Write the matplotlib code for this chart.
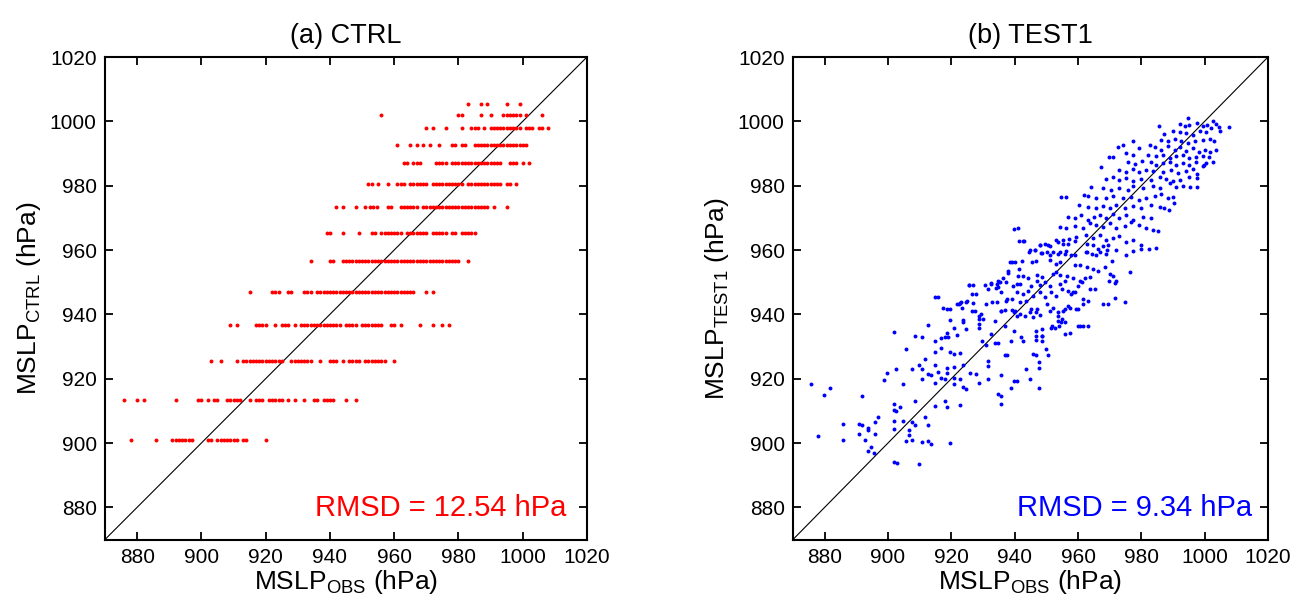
#!/usr/bin/env python3
"""
MSLP scatter: model vs observations, CTRL and TEST1 panels.
"""
import matplotlib
matplotlib.use("Agg")
import matplotlib.pyplot as plt

plt.rcParams["font.family"] = ["Liberation Sans", "DejaVu Sans"]
plt.rcParams["mathtext.default"] = "regular"

# ---- panel (a): CTRL, model pressure comes in discrete levels ----
ctrl_levels = [1005.5, 1002.1, 997.9, 992.7, 987.1, 980.6, 973.4,
               965.4, 956.6, 946.9, 936.7, 925.5, 913.5, 901.0]
ctrl_obs = [
    [983, 987, 989, 995, 999],
    [956, 980, 981, 987, 990, 994, 995, 996, 997, 998, 999, 1001, 1006],
    [970, 972, 976, 981, 984, 985, 986, 988, 990, 991, 992, 993, 994, 995,
     996, 997, 998, 999, 1001, 1002, 1003, 1005, 1006, 1008],
    [961, 965, 967, 969, 971, 974, 978, 979, 981, 982, 985, 986, 987, 988,
     989, 990, 991, 992, 993, 994, 995, 996, 997, 998, 999, 1000, 1001],
    [963, 964, 966, 967, 968, 973, 974, 975, 976, 978, 979, 980, 981, 982,
     983, 984, 985, 986, 987, 988, 989, 990, 991, 992, 993, 996, 997, 998,
     1000, 1002],
    [952, 953, 955, 958, 961, 962, 963, 965, 966, 967, 968, 969, 970, 972,
     973, 974, 975, 976, 977, 978, 979, 980, 981, 983, 984, 985, 986, 987,
     988, 989, 990, 991, 992, 993, 995, 996, 998],
    [942, 944, 948, 951, 952.5, 953.5, 954.5, 958, 959, 962, 963, 964, 965,
     966, 967, 969, 970, 971, 972, 973, 974, 975, 976, 977, 978, 979, 980,
     981, 982, 983, 984, 985, 986, 987, 988, 989, 991, 995],
    [939, 940, 944, 949, 953, 954, 956, 957, 958, 959, 960, 961, 962, 964,
     965, 966, 967, 968, 969, 970, 972, 973, 974, 975, 976, 978, 979, 981,
     982, 983, 984, 985],
    [934, 940, 941, 944, 945, 946, 947, 948, 949, 950, 951, 952, 953, 954,
     955, 956, 957, 958, 959, 960, 961, 962, 963, 964, 965, 966, 967, 968,
     969, 970, 971, 972, 973, 974, 975, 976, 977, 978, 979, 980, 983],
    [915, 922, 923, 924, 927, 928, 932, 933, 934, 936, 937, 938, 939, 940,
     941, 942, 943, 944, 945, 946, 947, 948, 949, 950, 951, 952, 953, 954,
     955, 956, 957, 958, 959, 960, 961, 962, 963, 964, 965, 966, 970, 972],
    [909, 911, 917, 918, 919, 920, 923, 925, 926, 927, 929, 931, 932, 933,
     934, 935, 936, 937, 938, 939, 940, 941, 942, 943, 945, 946, 947, 948,
     950, 951, 952, 953, 954, 955, 956, 959, 960, 962, 968, 972, 975, 977],
    [903, 906, 911, 913, 914, 915, 916, 917, 918, 919, 920, 921, 922, 923,
     924, 925, 928, 929, 930, 931, 932, 933, 934, 937, 940, 941, 942, 944,
     946, 947, 948, 949, 951, 952, 953, 954, 955, 956, 957, 960],
    [876, 880, 882, 892, 899, 900, 902, 904, 905, 908, 909, 910, 911, 912,
     915, 917, 918, 919, 921, 922, 923, 924, 925, 927, 929, 932, 935, 936,
     938, 939, 940, 941, 945, 948],
    [878, 886, 891, 892, 893, 894, 895, 896, 897, 902, 903, 905, 906, 907,
     908, 909, 910, 911, 913, 914, 920],
]

# ---- panel (b): TEST1, (obs, model) pairs ----
test1_obs = [
    875.6, 877.9, 879.7, 881.8, 885.7, 885.7, 891.8, 890.7, 891.8, 890.7,
    892.6, 893.7, 893.8, 893.7, 894.7, 895.6, 895.8, 895.8, 896.7, 898.7,
    899.8, 901.8, 901.8, 901.8, 902.6, 901.8, 901.8, 901.8, 902.8, 902.6,
    903.9, 904.7, 904.7, 905.6, 905.8, 906.6, 906.6, 907.7, 907.7, 907.7,
    908.6, 908.6, 908.6, 909.8, 909.8, 910.6, 910.6, 910.6, 910.6, 911.8,
    911.8, 912.6, 912.6, 912.6, 913.7, 912.6, 913.7, 914.7, 914.7, 914.7,
    914.7, 914.7, 914.7, 915.8, 916.8, 917.9, 918.9, 916.8, 916.8, 917.9,
    917.9, 918.7, 918.7, 918.7, 918.7, 918.7, 919.7, 919.7, 919.7, 920.7,
    920.7, 920.7, 920.7, 920.7, 921.8, 922.8, 921.8, 922.6, 922.6, 922.6,
    923.7, 923.7, 923.7, 923.7, 924.7, 924.7, 924.7, 925.6, 925.8, 926.6,
    926.6, 927.7, 928.7, 928.7, 928.7, 928.7, 928.7, 929.8, 930.8, 930.8,
    931.7, 931.7, 931.7, 931.7, 932.6, 932.6, 933.7, 934.7, 933.7, 934.7,
    934.7, 935.6, 935.6, 935.6, 935.6, 936.8, 937.7, 936.8, 937.7, 938.7,
    938.7, 939.8, 940.8, 939.8, 939.8, 940.8, 940.8, 941.9, 942.6, 943.7,
    944.7, 945.8, 946.6, 946.6, 946.6, 946.6, 946.6, 947.7, 947.7, 947.7,
    948.7, 949.8, 950.6, 951.7, 952.6, 953.7, 954.7, 955.8, 953.7, 955.8,
    956.8, 957.9, 958.9, 960.0, 961.6, 960.0, 961.6, 963.7, 967.9, 969.8,
    971.8, 971.8, 974.7,
    # 940-965 hPa band
    942.9, 947.9, 949.5, 951.1, 953.7, 955.3, 956.9, 959.0, 962.7, 964.8,
    966.4, 967.9, 969.5, 944.8, 948.5, 950.1, 952.2, 954.3, 955.8, 957.9,
    962.7, 964.3, 966.9, 969.0, 939.0, 940.1, 945.6, 946.7, 951.3, 953.2,
    954.3, 959.0, 960.6, 962.7, 964.8, 966.4, 968.5, 970.6, 937.9, 941.1,
    942.7, 944.3, 946.9, 948.5, 952.2, 953.2, 954.3, 956.4, 958.5, 960.6,
    962.2, 963.7, 970.0, 971.1, 972.1, 934.3, 935.3, 937.4, 939.5, 941.6,
    945.3, 946.9, 947.9, 949.5, 951.1, 954.3, 955.8, 960.1, 961.4, 926.9,
    934.0, 935.8, 940.6, 942.7, 944.3, 945.8, 947.9, 949.5, 951.6, 953.2,
    954.8, 956.9, 958.5, 927.9, 915.8, 923.2, 924.8, 926.9, 932.7, 934.3,
    937.2, 939.0, 941.6, 943.7, 945.3, 946.9, 950.1, 951.1, 952.2, 955.3,
    957.4, 959.5, 961.6, 963.2, 965.3, 969.5, 917.4, 919.5, 922.5, 923.5,
    927.4, 929.5, 930.1, 935.8, 936.9, 939.0, 940.1, 941.6, 943.2, 944.8,
    945.8, 947.9, 953.7, 954.8, 955.8, 960.6, 963.2, 951.6, 954.0, 957.4,
    948.5, 948.5, 948.5,
    946.3, 944.5, 942.4, 938.4, 937.9, 941.4, 936.3, 932.6, 934.7, 930.5,
    # upper part
    994.7, 985.5, 992.1, 993.7, 995.2, 997.5, 999.4, 1000.7, 1002.1, 1003.7,
    987.3, 990.0, 992.1, 994.2, 996.3, 998.4, 1000.5, 986.3, 988.4, 990.5,
    992.6, 994.7, 996.8, 999.4, 1003.1, 974.2, 977.3, 979.4, 982.6, 984.2,
    986.3, 988.4, 990.5, 992.1, 994.2, 996.3, 998.2, 1000.0, 1003.7, 982.1,
    984.7, 986.8, 988.9, 991.0, 993.1, 995.2, 997.3, 999.4, 1001.5, 971.2,
    975.2, 977.3, 975.8, 977.9, 980.3, 983.1, 984.7, 986.8, 988.9, 991.0,
    993.1, 995.2, 997.3, 999.7, 1002.6, 967.3, 973.1, 975.2, 977.3, 979.4,
    981.5, 983.7, 986.8, 989.4, 991.5, 994.2, 996.3, 999.4, 968.9, 971.0,
    973.1, 975.2, 977.3, 980.0, 983.1, 985.8, 987.9, 990.0, 992.1, 995.2,
    997.6, 964.2, 967.9, 970.5, 973.1, 975.8, 977.3, 980.5, 983.7, 985.8,
    988.9, 991.0, 993.3, 997.6, 956.1, 963.1, 965.8, 968.9, 971.0, 974.2,
    976.8, 979.4, 981.5, 984.2, 986.3, 988.4, 990.0, 960.3, 963.1, 965.8,
    967.9, 970.0, 972.1, 974.7, 977.3, 980.0, 983.1, 985.8, 987.0, 956.8,
    958.9, 961.0, 963.1, 965.2, 966.8, 968.9, 971.0, 973.1, 975.2, 977.3,
    980.5, 983.1, 954.2, 956.3, 958.9, 961.5, 963.7, 965.8, 967.9, 970.0,
    972.1, 974.7, 976.8, 979.4, 981.5, 985.2, 941.0, 942.6, 947.9, 950.5,
    953.1, 955.2, 957.3, 959.4, 962.6, 964.7, 966.8, 968.9, 971.0, 973.1,
    975.2, 977.3, 980.0, 984.5, 946.3, 948.4, 951.0, 953.7, 956.3, 958.9,
    962.6, 965.8, 968.9, 972.1, 975.2, 977.3, 980.0,
    1007.7, 1004.5, 1004.7, 1002.6, 1001.6, 1001.6, 1000.5, 997.6, 995.5,
    990.2, 988.7, 983.7, 982.4, 976.5, 972.6, 969.8, 961.8, 954.7, 939.7,
    941.4, 925.5,
]
test1_mod = [
    918.4, 902.2, 914.8, 917.1, 906.0, 900.9, 914.5, 905.9, 905.7, 902.9,
    900.9, 904.6, 903.9, 897.4, 898.9, 896.8, 906.4, 902.8, 908.0, 919.7,
    921.8, 934.6, 912.2, 910.4, 909.9, 906.7, 904.3, 894.2, 893.9, 923.1,
    911.2, 918.2, 906.7, 929.1, 900.7, 904.1, 902.6, 923.1, 906.4, 901.0,
    933.3, 913.0, 905.7, 924.4, 893.4, 933.1, 922.9, 920.0, 900.2, 926.0,
    908.1, 936.7, 905.5, 921.5, 921.0, 900.5, 899.8, 945.3, 931.7, 928.3,
    924.4, 918.7, 911.4, 922.0, 932.5, 932.8, 933.1, 929.6, 920.3, 920.0,
    913.0, 941.8, 934.3, 923.4, 921.8, 911.2, 938.3, 928.3, 900.0, 935.6,
    927.6, 923.7, 920.3, 918.2, 943.2, 943.5, 933.5, 927.9, 919.8, 911.8,
    938.3, 937.5, 924.1, 917.5, 916.8, 943.9, 935.4, 949.1, 921.8, 946.3,
    941.1, 921.3, 918.7, 936.9, 935.9, 939.5, 938.5, 931.7, 943.2, 930.4,
    947.9, 925.5, 923.9, 919.8, 933.8, 949.7, 931.2, 931.2, 938.0, 950.5,
    915.1, 914.5, 912.2, 921.0, 941.1, 927.3, 927.3, 936.4, 944.7, 917.1,
    931.7, 919.2, 919.2, 934.9, 940.6, 939.5, 949.4, 933.1, 931.7, 922.9,
    919.8, 927.6, 927.3, 934.9, 933.3, 932.0, 940.6, 925.2, 923.4, 917.1,
    933.3, 929.1, 927.3, 936.4, 935.6, 938.0, 937.5, 933.8, 940.6, 941.8,
    942.7, 946.3, 946.8, 936.4, 936.4, 941.6, 944.7, 947.9, 943.2, 950.5,
    949.7, 945.0, 943.9,
    # 940-965 hPa band
    962.7, 961.6, 961.9, 961.2, 962.5, 963.0, 961.9, 962.7, 961.9, 961.4,
    960.4, 961.2, 961.6, 959.9, 959.1, 959.3, 959.5, 959.3, 958.8, 958.5,
    959.3, 958.8, 959.5, 959.9, 956.2, 956.2, 956.4, 956.7, 957.0, 955.7,
    956.4, 955.2, 955.4, 954.6, 954.1, 953.6, 954.6, 956.7, 952.9, 951.8,
    952.0, 951.2, 952.3, 951.5, 952.6, 953.1, 952.3, 952.0, 951.2, 950.5,
    951.2, 951.5, 952.6, 952.0, 950.5, 949.4, 950.0, 950.2, 948.9, 949.4,
    948.9, 950.5, 949.1, 950.0, 948.9, 949.4, 950.5, 948.9, 950.0, 949.1,
    948.1, 947.0, 946.8, 946.3, 947.4, 945.6, 946.8, 945.3, 946.8, 945.8,
    947.9, 947.4, 946.8, 946.3, 945.3, 943.9, 944.2, 943.5, 943.9, 943.7,
    944.2, 944.8, 943.9, 944.2, 941.8, 941.6, 943.2, 941.1, 942.1, 941.1,
    942.1, 941.6, 943.2, 944.2, 947.9, 943.2, 942.1, 941.8, 943.2, 942.1,
    941.1, 940.1, 938.5, 941.1, 941.4, 941.4, 941.1, 940.1, 939.5, 940.6,
    939.3, 939.8, 939.5, 938.5, 937.5, 936.4, 936.4, 935.9, 936.4, 934.1,
    935.4, 933.3, 931.7,
    959.9, 959.3, 956.7, 956.4, 953.4, 954.1, 951.2, 949.4, 948.4, 949.1,
    # upper part
    1000.9, 998.5, 999.2, 998.5, 999.0, 999.5, 998.5, 999.0, 997.9, 999.2,
    996.1, 996.9, 996.7, 996.4, 995.9, 997.1, 996.7, 994.3, 993.8, 994.6,
    994.0, 993.3, 993.8, 994.3, 993.8, 992.5, 993.8, 991.7, 992.5, 991.9,
    991.2, 992.2, 991.2, 991.9, 990.9, 991.7, 990.5, 991.2, 991.2, 989.6,
    989.1, 989.6, 988.6, 989.1, 989.6, 988.6, 988.8, 989.1, 988.8, 988.9,
    990.1, 989.6, 987.5, 986.7, 987.7, 987.5, 986.5, 987.0, 987.5, 986.5,
    987.0, 986.3, 987.5, 986.5, 987.3, 985.7, 985.0, 984.2, 985.2, 984.2,
    985.0, 984.6, 984.4, 984.9, 983.9, 984.6, 985.2, 986.0, 982.1, 982.8,
    981.8, 982.3, 981.5, 982.1, 981.8, 982.8, 982.1, 981.3, 981.8, 982.8,
    982.3, 979.7, 979.2, 978.7, 979.4, 978.7, 980.0, 979.2, 980.0, 979.4,
    980.8, 979.7, 980.0, 979.5, 976.6, 976.9, 976.1, 976.3, 976.9, 976.1,
    976.6, 975.6, 976.3, 976.9, 977.3, 976.1, 976.6, 974.0, 973.5, 973.0,
    973.8, 973.2, 974.0, 973.2, 973.8, 973.0, 974.0, 973.5, 973.0, 970.3,
    969.8, 970.9, 969.3, 970.3, 970.9, 970.0, 971.1, 969.8, 970.9, 969.3,
    970.3, 969.8, 967.2, 966.7, 967.5, 966.9, 968.3, 967.7, 967.2, 968.3,
    966.7, 967.5, 968.8, 967.7, 966.9, 965.9, 966.7, 962.7, 961.7, 961.5,
    963.1, 962.0, 963.4, 964.1, 964.8, 963.6, 964.6, 963.1, 963.8, 964.4,
    962.5, 963.1, 961.7, 960.5, 960.0, 959.2, 958.4, 958.9, 959.6, 958.4,
    959.4, 958.4, 958.9, 959.9, 958.4, 959.6, 960.4,
    998.1, 998.1, 997.0, 1000.0, 994.5, 990.6, 987.0, 983.5, 979.6,
    974.7, 972.4, 966.1, 960.4, 953.1, 992.1, 989.0, 977.0, 976.5, 966.6,
    962.7, 949.1,
]

ticks = [880, 900, 920, 940, 960, 980, 1000, 1020]


def style_axes(ax, title, ylabel, rmsd_text, color, rmsd_x):
    ax.plot([870, 1020], [870, 1020], color="black", lw=0.8, zorder=1)
    ax.set_xlim(870, 1020)
    ax.set_ylim(870, 1020)
    ax.set_xticks(ticks)
    ax.set_yticks(ticks)
    ax.tick_params(direction="in", length=6, width=1.3, top=True, right=True,
                   labelsize=15, pad=6)
    for sp in ax.spines.values():
        sp.set_linewidth(1.5)
    ax.set_title(title, fontsize=19.5, pad=10)
    ax.set_xlabel("MSLP$_{OBS}$ (hPa)", fontsize=19, labelpad=1)
    ax.set_ylabel(ylabel, fontsize=19, labelpad=5)
    ax.text(rmsd_x, 0.066, rmsd_text, transform=ax.transAxes, ha="right",
            va="center", color=color, fontsize=21)


fig = plt.figure(figsize=(13.03, 6.06), dpi=100)
ax1 = fig.add_axes([105 / 1303, 66.5 / 606, 482 / 1303, 482.5 / 606])
ax2 = fig.add_axes([793 / 1303, 66.5 / 606, 475 / 1303, 482.5 / 606])

# panel (a)
xa, ya = [], []
for lev, xs in zip(ctrl_levels, ctrl_obs):
    xa.extend(xs)
    ya.extend([lev] * len(xs))
ax1.scatter(xa, ya, s=8, color="#ff0000", linewidths=0, zorder=2)
style_axes(ax1, "(a) CTRL", "MSLP$_{CTRL}$ (hPa)", "RMSD = 12.54 hPa",
           "#ff0000", 0.958)

# panel (b)
ax2.scatter(test1_obs, test1_mod, s=8, color="#0000ff", linewidths=0, zorder=2)
style_axes(ax2, "(b) TEST1", "MSLP$_{TEST1}$ (hPa)", "RMSD = 9.34 hPa",
           "#0000ff", 0.966)

fig.savefig("out.png", dpi=100)
